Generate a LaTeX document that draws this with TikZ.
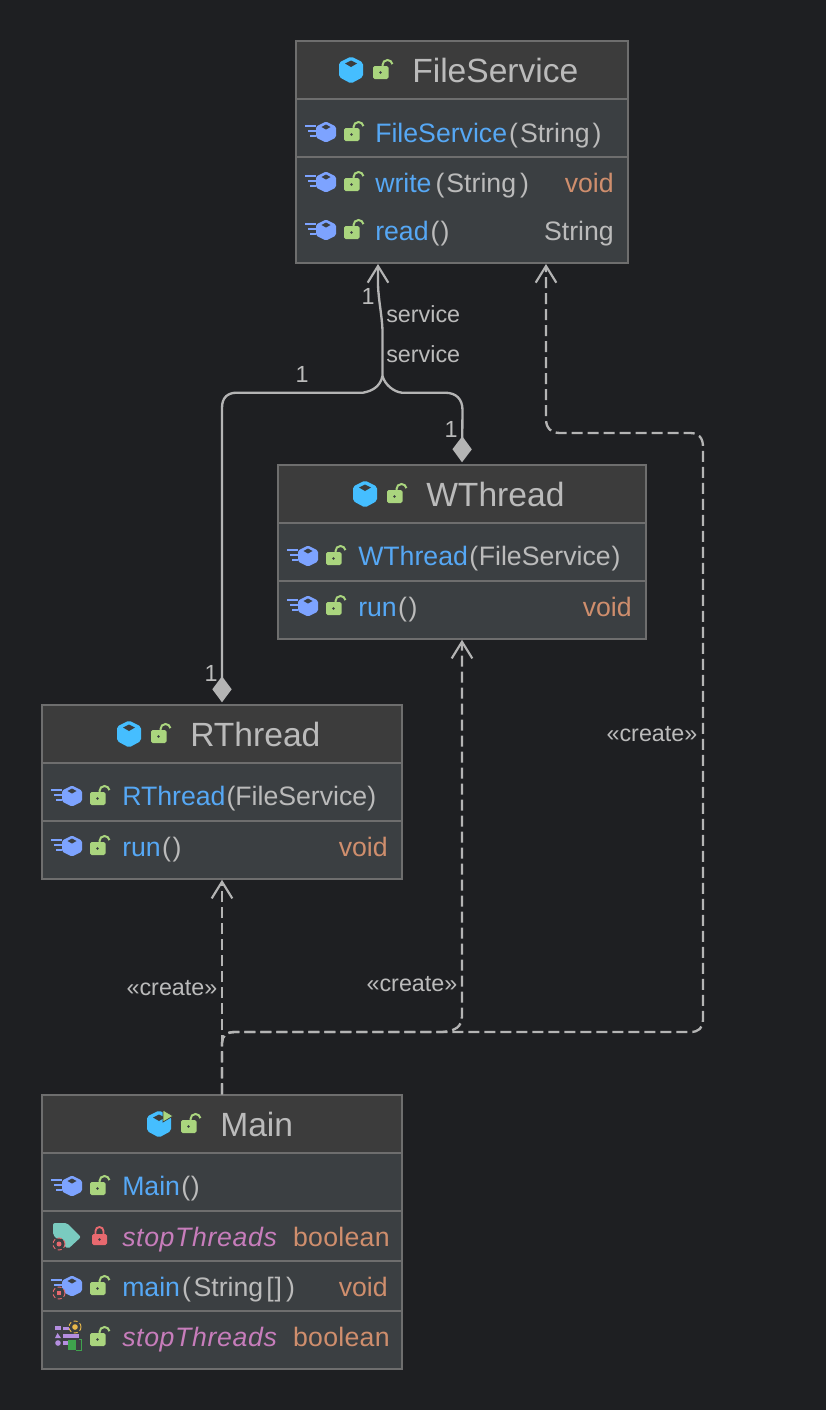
\documentclass[tikz,border=0pt]{standalone}
\usepackage{fontspec}
\setmainfont{Liberation Sans}
\usetikzlibrary{arrows.meta}
\definecolor{bgc}{HTML}{1E1F22}
\definecolor{bodyc}{HTML}{3B3F42}
\definecolor{headc}{HTML}{3C3C3C}
\definecolor{edgec}{HTML}{6E6E6E}
\definecolor{txtc}{HTML}{BBBBBB}
\definecolor{nameb}{HTML}{56A8F5}
\definecolor{typeo}{HTML}{CF8E6D}
\definecolor{fieldp}{HTML}{C77DBB}
\definecolor{linec}{HTML}{B4B4B4}
\definecolor{hexc}{HTML}{45BEFF}
\definecolor{methc}{HTML}{7DA3FF}
\definecolor{lockg}{HTML}{AAD57E}
\definecolor{lockr}{HTML}{E8696F}
\definecolor{tagc}{HTML}{7ACBC0}
\definecolor{propc}{HTML}{B48EE0}
\definecolor{greenc}{HTML}{3FA34D}
\definecolor{yelc}{HTML}{E8B84A}
\newcommand{\lockico}[2]{\begin{scope}[shift={(#1,#2)}]
 \draw[lockg,line width=1.5pt] (-0.5,-4) -- (-0.5,-6) arc[start angle=180,end angle=350,radius=5];
 \fill[lockg,rounded corners=1.2pt] (-10,-5) rectangle (5.5,8);
 \fill[bodyc] (-2.5,1.5) circle (1.4);
\end{scope}}
\newcommand{\lockclosed}[2]{\begin{scope}[shift={(#1,#2)}]
 \draw[lockr,line width=1.4pt] (-4,-3) -- (-4,-7) arc[start angle=180,end angle=360,radius=4] -- (4,-3);
 \fill[lockr,rounded corners=1.2pt] (-7.5,-4) rectangle (7.5,7);
 \fill[bodyc] (0,1.5) circle (1.4);
\end{scope}}
\newcommand{\hexico}[2]{\begin{scope}[shift={(#1,#2)}]
 \fill[hexc,rounded corners=1.5pt] (0,-13.5) -- (12,-7.5) -- (12,7) -- (0,13.5) -- (-12,7) -- (-12,-7.5) -- cycle;
 \fill[headc] (-6,-6.5) -- (0,-9.5) -- (6,-6.5) -- (0,-3) -- cycle;
\end{scope}}
\newcommand{\methhex}[2]{\begin{scope}[shift={(#1,#2)}]
 \fill[methc,rounded corners=1.2pt] (0,-10.5) -- (10,-5.5) -- (10,5.5) -- (0,10.5) -- (-10,5.5) -- (-10,-5.5) -- cycle;
 \fill[bodyc] (-4.5,-5) -- (0,-7.5) -- (4.5,-5) -- (0,-2.5) -- cycle;
 \fill[methc] (-21,-7) rectangle (-10,-5);
 \fill[methc] (-18,-2) rectangle (-10,0);
 \fill[methc] (-16,3) rectangle (-10,5);
\end{scope}}
\newcommand{\methrow}[2]{\methhex{#1}{#2}\lockico{#1+28}{#2+1}}
\tikzset{
 x=0.75pt,y=-0.75pt,
 umlbox/.style={draw=edgec,fill=bodyc,line width=1.1pt,inner sep=0pt},
 sepline/.style={draw=edgec,line width=1.5pt},
 titletxt/.style={anchor=base west,inner sep=0pt,text=txtc,font=\fontsize{25.2}{30}\selectfont},
 rowtxt/.style={anchor=base west,inner sep=0pt,text=txtc,font=\fontsize{20}{24}\selectfont},
 typetxt/.style={anchor=base east,inner sep=0pt,text=typeo,font=\fontsize{20}{24}\selectfont},
 lbl/.style={inner sep=0pt,text=txtc,font=\fontsize{17.5}{20}\selectfont},
 conn/.style={draw=linec,line width=1.75pt},
 dashconn/.style={conn,dash pattern=on 8.25pt off 3.75pt},
 opentip/.style={-{Straight Barb[length=12.5pt,width=15.5pt,line width=1.6pt]}},
 diamtip/.style={{Diamond[length=19.5pt,width=14.5pt,fill=linec,line width=0pt]}-,shorten <=1.5pt},
}
\begin{document}
\begin{tikzpicture}
\fill[bgc] (0,0) rectangle (826,1410);
\useasboundingbox (0,0) rectangle (826,1410);

% boxes
\node[umlbox,minimum width=249pt,minimum height=166.5pt] (fs) at (462,152) {};
\fill[headc] (297,42) rectangle (627,99);
\draw[sepline] (297,99) -- (627,99) (297,157) -- (627,157);
\node[umlbox,minimum width=276pt,minimum height=130.5pt] (wt) at (462,552) {};
\fill[headc] (279,466) rectangle (645,523);
\draw[sepline] (279,523) -- (645,523) (279,581) -- (645,581);
\node[umlbox,minimum width=270pt,minimum height=130.5pt] (rt) at (222,792) {};
\fill[headc] (43,706) rectangle (401,763);
\draw[sepline] (43,763) -- (401,763) (43,821) -- (401,821);
\node[umlbox,minimum width=270pt,minimum height=205.5pt] (mn) at (222,1232) {};
\fill[headc] (43,1096) rectangle (401,1153);
\draw[sepline] (43,1153) -- (401,1153) (43,1211) -- (401,1211) (43,1261) -- (401,1261) (43,1311) -- (401,1311);

% FileService
\hexico{351}{70}\lockico{383}{71}
\node[titletxt] (fsT) at (412,82) {FileService};
\methrow{326}{132}
\node[rowtxt] (fsC) at (375,142) {\textcolor{nameb}{FileService}\kern1.5pt(\kern1.5pt String\kern2.25pt)};
\methrow{326}{182}
\node[rowtxt] (fsW) at (375,192) {\textcolor{nameb}{write}\kern3pt(\kern1.5pt String\kern3pt)};
\node[typetxt] (fsWt) at (614,192) {void};
\methrow{326}{230}
\node[rowtxt] (fsR) at (375,240) {\textcolor{nameb}{read}\kern1.5pt(\kern0.75pt)};
\node[typetxt,text=txtc] (fsRt) at (614,240) {String};

% WThread
\hexico{365}{494}\lockico{397}{495}
\node[titletxt] (wtT) at (426,506) {WThread};
\methrow{308}{556}
\node[rowtxt] (wtC) at (358,565) {\textcolor{nameb}{WThread}\kern1pt(\kern0.5pt FileService\kern0.75pt)};
\methrow{308}{606}
\node[rowtxt] (wtR) at (358,616) {\textcolor{nameb}{run}\kern1pt(\kern1.25pt)};
\node[typetxt] (wtRt) at (632,616) {void};

% RThread
\hexico{129}{734}\lockico{161}{735}
\node[titletxt] (rtT) at (190,746) {RThread};
\methrow{72}{796}
\node[rowtxt] (rtC) at (122,805) {\textcolor{nameb}{RThread}\kern0.75pt(FileService)};
\methrow{72}{846}
\node[rowtxt] (rtR) at (122,856) {\textcolor{nameb}{run}\kern1pt(\kern1.25pt)};
\node[typetxt] (rtRt) at (388,856) {void};

% Main
\hexico{159}{1124}
\fill[lockg,draw=headc,line width=0.5pt] (163,1110) -- (173,1116) -- (163,1122) -- cycle;
\lockico{191}{1125}
\node[titletxt] (mnT) at (220,1136) {Main};
\methrow{72}{1186}
\node[rowtxt] (mnC) at (122,1195) {\textcolor{nameb}{Main}\kern1pt(\kern0.5pt)};
% field row
\fill[tagc,rounded corners=1.5pt] (53,1223) -- (67,1223) -- (81,1237) -- (68,1249) -- (53,1235) -- cycle;
\fill[bodyc] (59,1244) circle (6);
\draw[lockr,line width=0.7pt,densely dashed] (59,1244) circle (6);
\fill[lockr] (59,1244) circle (2.5);
\lockclosed{99.5}{1238}
\node[rowtxt] (mnF) at (122,1246) {\addfontfeature{LetterSpace=2.4}\textcolor{fieldp}{\itshape stopThreads}};
\node[typetxt] (mnFt) at (390,1246) {\addfontfeature{LetterSpace=1.1}boolean};
% main row
\methrow{72}{1286}
\fill[bodyc] (59,1293) circle (6);
\draw[lockr,line width=0.7pt,densely dashed] (59,1293) circle (6);
\fill[lockr] (57,1291) rectangle (61,1295);
\node[rowtxt] (mnM) at (122,1296) {\textcolor{nameb}{main}\kern1.5pt(\kern2pt String\kern2.25pt[\kern0.75pt]\kern3pt)};
\node[typetxt] (mnMt) at (388,1296) {void};
% property row
\fill[propc] (55,1326) rectangle (61,1330);
\fill[propc] (63,1327) rectangle (75,1330);
\fill[propc] (57.5,1333) -- (61,1338) -- (55,1338) -- cycle;
\fill[propc] (63,1334) rectangle (79,1338);
\fill[propc] (58,1343) circle (2.8);
\fill[propc] (63,1341) rectangle (68,1345);
\fill[bodyc] (75,1327) circle (6);
\draw[yelc,line width=0.7pt,densely dashed] (75,1327) circle (6);
\fill[yelc] (75,1327) circle (2.8);
\fill[greenc] (68,1340) rectangle (76,1350);
\draw[greenc,line width=0.6pt] (79,1339) -- (81,1339) -- (81,1350) -- (76,1350);
\lockico{100}{1338}
\node[rowtxt] (mnP) at (122,1346) {\addfontfeature{LetterSpace=2.4}\textcolor{fieldp}{\itshape stopThreads}};
\node[typetxt] (mnPt) at (390,1346) {\addfontfeature{LetterSpace=1.1}boolean};

% connector anchors
\coordinate (fsA) at (378,264);
\coordinate (fsB) at (546,264);
\coordinate (join) at (382.5,376);
\coordinate (splitM) at (222,1043);

% associations
\draw[conn,diamtip] (rt.north) -- (222,408) .. controls (222,397) and (228,392.7) .. (237,392.7) -- (363,392.7) .. controls (372,391) and (380,387) .. (join);
\draw[conn,diamtip] (wt.north) -- (462.5,410) .. controls (462.5,399) and (456,392.7) .. (445,392.7) -- (402,392.7) .. controls (394,392) and (385,385) .. (join);
\draw[conn,opentip] (join) -- (382.5,330) .. controls (382,316) and (378.5,300) .. (378,285) -- (fsA);

% create dependencies
\draw[dashconn,opentip] (mn.north) -- (rt.south);
\draw[dashconn,opentip] (mn.north) -- (splitM) .. controls (222,1036) and (226,1032) .. (235,1032) -- (442,1032) .. controls (455,1031) and (462,1027) .. (462,1016) -- (wt.south);
\draw[dashconn,opentip] (mn.north) -- (splitM) .. controls (222,1036) and (226,1032) .. (235,1032) -- (690,1032) .. controls (699,1032) and (703,1028) .. (703,1019) -- (703,447) .. controls (703,438) and (699,433) .. (690,433) -- (560,433) .. controls (551,433) and (546,428) .. (546,419) -- (fsB);

% labels
\node[lbl] (l1) at (368,296) {1};
\node[lbl,anchor=west] (l2) at (386,314) {service};
\node[lbl,anchor=west] (l3) at (386,354) {service};
\node[lbl] (l4) at (302,374) {1};
\node[lbl] (l5) at (451,429) {1};
\node[lbl] (l6) at (211,673) {1};
\node[lbl] (l7) at (172,988) {«create»};
\node[lbl] (l8) at (412,984) {«create»};
\node[lbl] (l9) at (652,734) {«create»};
\end{tikzpicture}
\end{document}
